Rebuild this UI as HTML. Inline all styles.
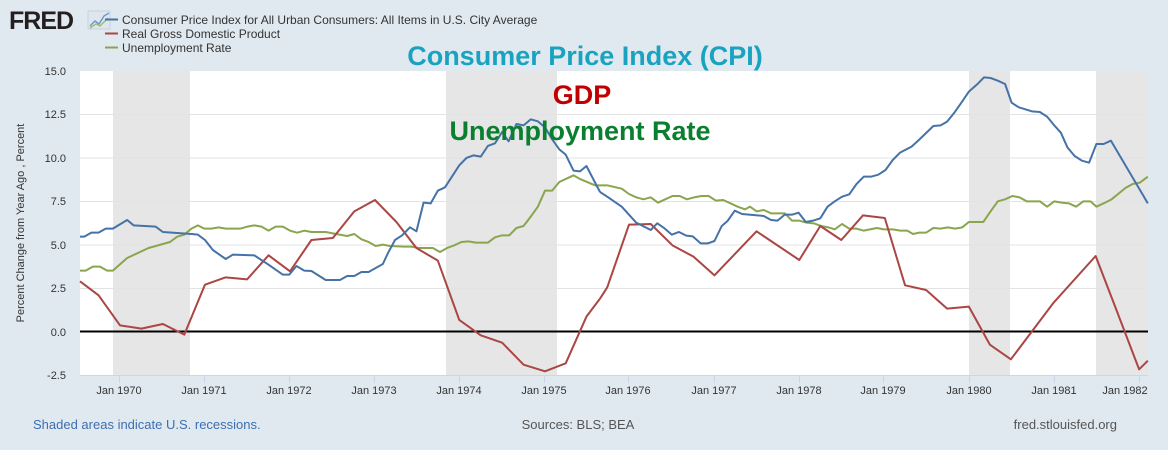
<!DOCTYPE html>
<html><head><meta charset="utf-8"><style>
html,body{margin:0;padding:0;background:#e1e9f0;}
svg{display:block;font-family:"Liberation Sans",Arial,sans-serif;}
</style></head><body>
<svg width="1168" height="450" viewBox="0 0 1168 450">
<rect width="1168" height="450" fill="#e1e9f0"/>
<text x="9" y="29" font-size="25" font-weight="bold" fill="#231f20" letter-spacing="-1">FRED</text>
<rect x="88" y="11" width="22" height="18" fill="#dfe6ee" stroke="#c7d2dd"/>
<polyline points="90,26 95,21 99,24 104,16 109,13" fill="none" stroke="#6b9bd1" stroke-width="1.5"/>
<polyline points="90,28 96,24 100,26 108,18" fill="none" stroke="#9ec06a" stroke-width="1.5"/>
<g font-size="12" fill="#333">
<line x1="105" y1="19.5" x2="118" y2="19.5" stroke="#4572a7" stroke-width="2"/><text x="122" y="24">Consumer Price Index for All Urban Consumers: All Items in U.S. City Average</text>
<line x1="105" y1="33.5" x2="118" y2="33.5" stroke="#aa4643" stroke-width="2"/><text x="122" y="38">Real Gross Domestic Product</text>
<line x1="105" y1="47.5" x2="118" y2="47.5" stroke="#89a54e" stroke-width="2"/><text x="122" y="52">Unemployment Rate</text>
</g>
<rect x="80" y="71" width="1068" height="304" fill="#fff"/>
<g fill="#e6e6e6"><rect x="113" y="71" width="77" height="304"/><rect x="446" y="71" width="111" height="304"/><rect x="969" y="71" width="41" height="304"/><rect x="1096" y="71" width="52" height="304"/></g>
<g stroke="#e3e3e3" stroke-width="1"><line x1="80" x2="1148" y1="114.5" y2="114.5"/><line x1="80" x2="1148" y1="158" y2="158"/><line x1="80" x2="1148" y1="201.5" y2="201.5"/><line x1="80" x2="1148" y1="245" y2="245"/><line x1="80" x2="1148" y1="288.5" y2="288.5"/></g>
<line x1="80" x2="1148" y1="375.5" y2="375.5" stroke="#ccd6eb"/>
<g stroke="#ccd6eb"><line x1="119.5" x2="119.5" y1="375" y2="383"/><line x1="204.5" x2="204.5" y1="375" y2="383"/><line x1="289.5" x2="289.5" y1="375" y2="383"/><line x1="374.5" x2="374.5" y1="375" y2="383"/><line x1="459.5" x2="459.5" y1="375" y2="383"/><line x1="544.5" x2="544.5" y1="375" y2="383"/><line x1="628.5" x2="628.5" y1="375" y2="383"/><line x1="714.5" x2="714.5" y1="375" y2="383"/><line x1="799.5" x2="799.5" y1="375" y2="383"/><line x1="883.5" x2="883.5" y1="375" y2="383"/><line x1="969.5" x2="969.5" y1="375" y2="383"/><line x1="1054.5" x2="1054.5" y1="375" y2="383"/><line x1="1139.5" x2="1139.5" y1="375" y2="383"/></g>
<g font-size="11" fill="#333" text-anchor="end"><text x="66" y="75">15.0</text><text x="66" y="118">12.5</text><text x="66" y="162">10.0</text><text x="66" y="205">7.5</text><text x="66" y="249">5.0</text><text x="66" y="292">2.5</text><text x="66" y="336">0.0</text><text x="66" y="379">-2.5</text></g>
<g font-size="11" fill="#333" text-anchor="middle"><text x="119" y="394">Jan 1970</text><text x="204" y="394">Jan 1971</text><text x="289" y="394">Jan 1972</text><text x="374" y="394">Jan 1973</text><text x="459" y="394">Jan 1974</text><text x="544" y="394">Jan 1975</text><text x="628" y="394">Jan 1976</text><text x="714" y="394">Jan 1977</text><text x="799" y="394">Jan 1978</text><text x="883" y="394">Jan 1979</text><text x="969" y="394">Jan 1980</text><text x="1054" y="394">Jan 1981</text><text x="1125" y="394">Jan 1982</text></g>
<text transform="translate(24,223) rotate(-90)" font-size="11" fill="#333" text-anchor="middle">Percent Change from Year Ago , Percent</text>
<line x1="80" x2="1148" y1="331.5" y2="331.5" stroke="#000" stroke-width="2"/>
<g fill="none" stroke-width="2" stroke-linejoin="round">
<g transform="translate(70,60) scale(0.35714,0.33333)">
<polyline vector-effect="non-scaling-stroke" stroke="#89a54e" points="28,632 44,632 64,620 84,620 104,632 120,632 160,594 220,564 280,546 300,530 320,524 340,506 358,496 376,506 396,506 416,502 436,506 476,506 496,500 516,496 536,500 556,512 576,500 596,500 616,512 636,518 656,512 676,516 716,516 736,520 776,528 796,522 816,538 836,546 856,558 876,554 896,558 936,560 956,560 976,564 1016,564 1036,576 1056,564 1076,556 1096,546 1116,544 1136,548 1170,548 1190,532 1210,526 1230,526 1250,504 1270,498 1290,470 1310,440 1330,392 1350,392 1370,366 1410,346 1430,358 1470,376 1484,376"/>
<polyline vector-effect="non-scaling-stroke" stroke="#aa4643" points="28,664 80,706 140,796 200,806 260,792 320,824 378,674 436,652 496,658 556,586 616,634 676,540 736,534 796,454 854,420 914,486 970,564 1030,602 1090,780 1150,826 1210,848 1270,914 1330,934 1388,910 1446,770 1484,716"/>
<polyline vector-effect="non-scaling-stroke" stroke="#4572a7" points="28,530 40,530 60,518 80,518 100,506 120,506 160,480 178,496 240,500 260,516 340,522 358,524 378,540 400,570 436,597 456,584 516,586 556,614 596,644 614,644 634,618 656,632 676,633 716,660 756,660 776,648 796,648 816,636 836,636 876,612 890,580 910,540 930,526 952,502 970,514 990,428 1010,430 1030,392 1050,382 1090,316 1110,294 1130,286 1150,290 1170,258 1190,250 1210,216 1228,244 1250,192 1270,196 1290,178 1310,184 1330,202 1350,238 1370,268 1388,284 1410,332 1428,334 1446,318 1484,396"/>
</g>
<g transform="translate(600,60) scale(0.36232,0.33333)">
<polyline vector-effect="non-scaling-stroke" stroke="#89a54e" points="0,376 20,376 60,386 80,402 100,412 120,418 140,412 160,428 180,418 200,408 220,408 240,418 260,412 280,408 300,408 320,422 340,420 360,430 380,440 400,448 414,440 432,454 452,450 472,460 510,460 530,482 550,482 570,488 590,490 610,498 630,502 648,508 668,492 688,506 708,506 728,512 764,504 784,508 808,508 828,512 848,512 864,522 880,518 900,518 920,504 940,506 960,502 980,506 1000,502 1018,486 1058,486 1078,454 1098,424 1118,418 1138,408 1158,412 1178,424 1214,424 1234,440 1254,424 1274,428 1294,430 1314,440 1334,424 1354,424 1370,440 1390,430 1412,418 1430,402 1450,384 1470,372 1490,368 1512,350"/>
<polyline vector-effect="non-scaling-stroke" stroke="#aa4643" points="0,716 20,682 80,494 140,492 200,556 258,590 316,646 432,514 550,600 608,498 666,540 726,466 786,474 842,676 900,690 958,746 1018,740 1076,854 1134,898 1252,728 1368,588 1426,752 1488,928 1512,902"/>
<polyline vector-effect="non-scaling-stroke" stroke="#4572a7" points="0,396 20,410 60,440 100,488 140,510 158,490 178,505 198,524 218,516 238,527 256,529 278,550 298,550 316,543 336,498 352,483 372,452 392,462 452,468 472,480 490,482 510,464 530,464 548,458 568,486 588,482 608,475 628,440 648,424 668,410 688,403 708,372 728,350 748,350 768,344 788,330 808,300 828,278 860,260 880,240 920,198 940,196 958,185 978,158 1000,124 1018,95 1040,74 1060,52 1078,54 1098,62 1118,72 1136,128 1156,142 1192,154 1214,156 1234,170 1252,194 1272,218 1290,262 1310,288 1330,302 1350,308 1370,252 1390,252 1410,242 1512,430"/>
</g>
</g>
<g font-weight="bold" font-size="27" text-anchor="middle">
<text x="585" y="65" fill="#1aa3c1">Consumer Price Index (CPI)</text>
<text x="582" y="104" fill="#c00000">GDP</text>
<text x="580" y="140" fill="#0b7f30">Unemployment Rate</text>
</g>
<g font-size="13"><text x="33" y="429" fill="#3d6fb0">Shaded areas indicate U.S. recessions.</text><text x="578" y="429" fill="#555" text-anchor="middle">Sources: BLS; BEA</text><text x="1117" y="429" fill="#555" text-anchor="end">fred.stlouisfed.org</text></g>
</svg>
</body></html>
